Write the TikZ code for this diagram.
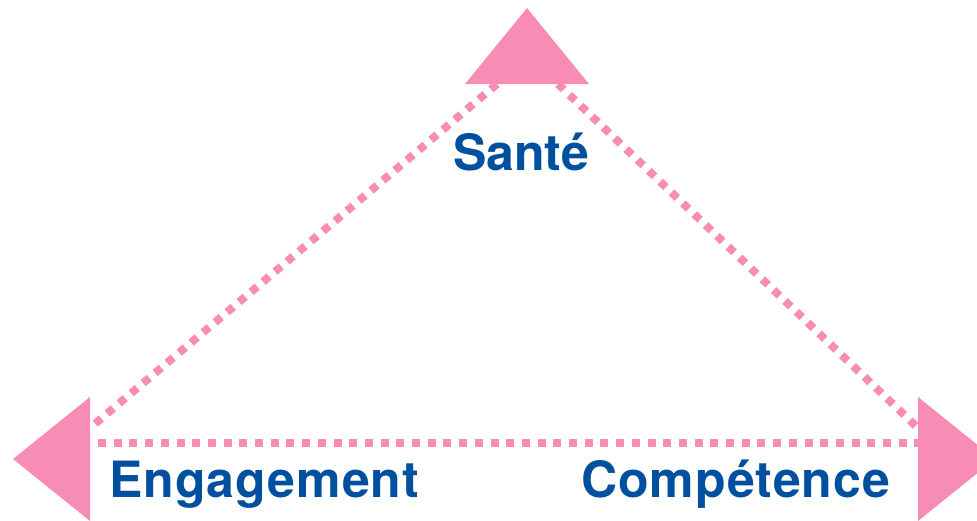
\documentclass[tikz,border=0pt]{standalone}
\usepackage{fontspec}
\setmainfont{TeX Gyre Heros}
\usepackage{xcolor}
\usetikzlibrary{positioning}
\definecolor{rose}{HTML}{F78DB4}
\definecolor{navy}{HTML}{00509F}

\begin{document}
\begin{tikzpicture}[x=1pt,y=-1pt,
  dotline/.style={rose,line width=8pt,dash pattern=on 8pt off 7.7pt},
  label/.style={text=navy,font=\fontsize{50}{60}\bfseries\selectfont,inner sep=0pt,anchor=base west},
  wide/.style={font=\fontsize{50}{60}\bfseries\addfontfeatures{LetterSpace=2}\selectfont}]
\useasboundingbox (0,0) rectangle (977,520);
% corner points where the dotted sides meet the heads
\coordinate (topL) at (497,84);
\coordinate (topR) at (558,84);
\coordinate (leftB) at (90,428);
\coordinate (rightB) at (918,428);
\coordinate (baseL) at (98,443);
\coordinate (baseR) at (918,443);
\draw[dotline] (topL) -- (leftB);
\draw[dotline] (topR) -- (rightB);
\draw[dotline] (baseL) -- (baseR);
% the three heads
\fill[rose] (527,8) -- (589,84) -- (465,84) -- cycle;
\fill[rose] (13,459) -- (90,397) -- (90,521) -- cycle;
\fill[rose] (995,459) -- (918,397) -- (918,521) -- cycle;
\node[label] (sante) at (453,170) {Santé};
\node[label,wide] (engagement) at (109,497) {Engagement};
\node[label,wide] (competence) at (581,497) {Compétence};
\end{tikzpicture}
\end{document}
